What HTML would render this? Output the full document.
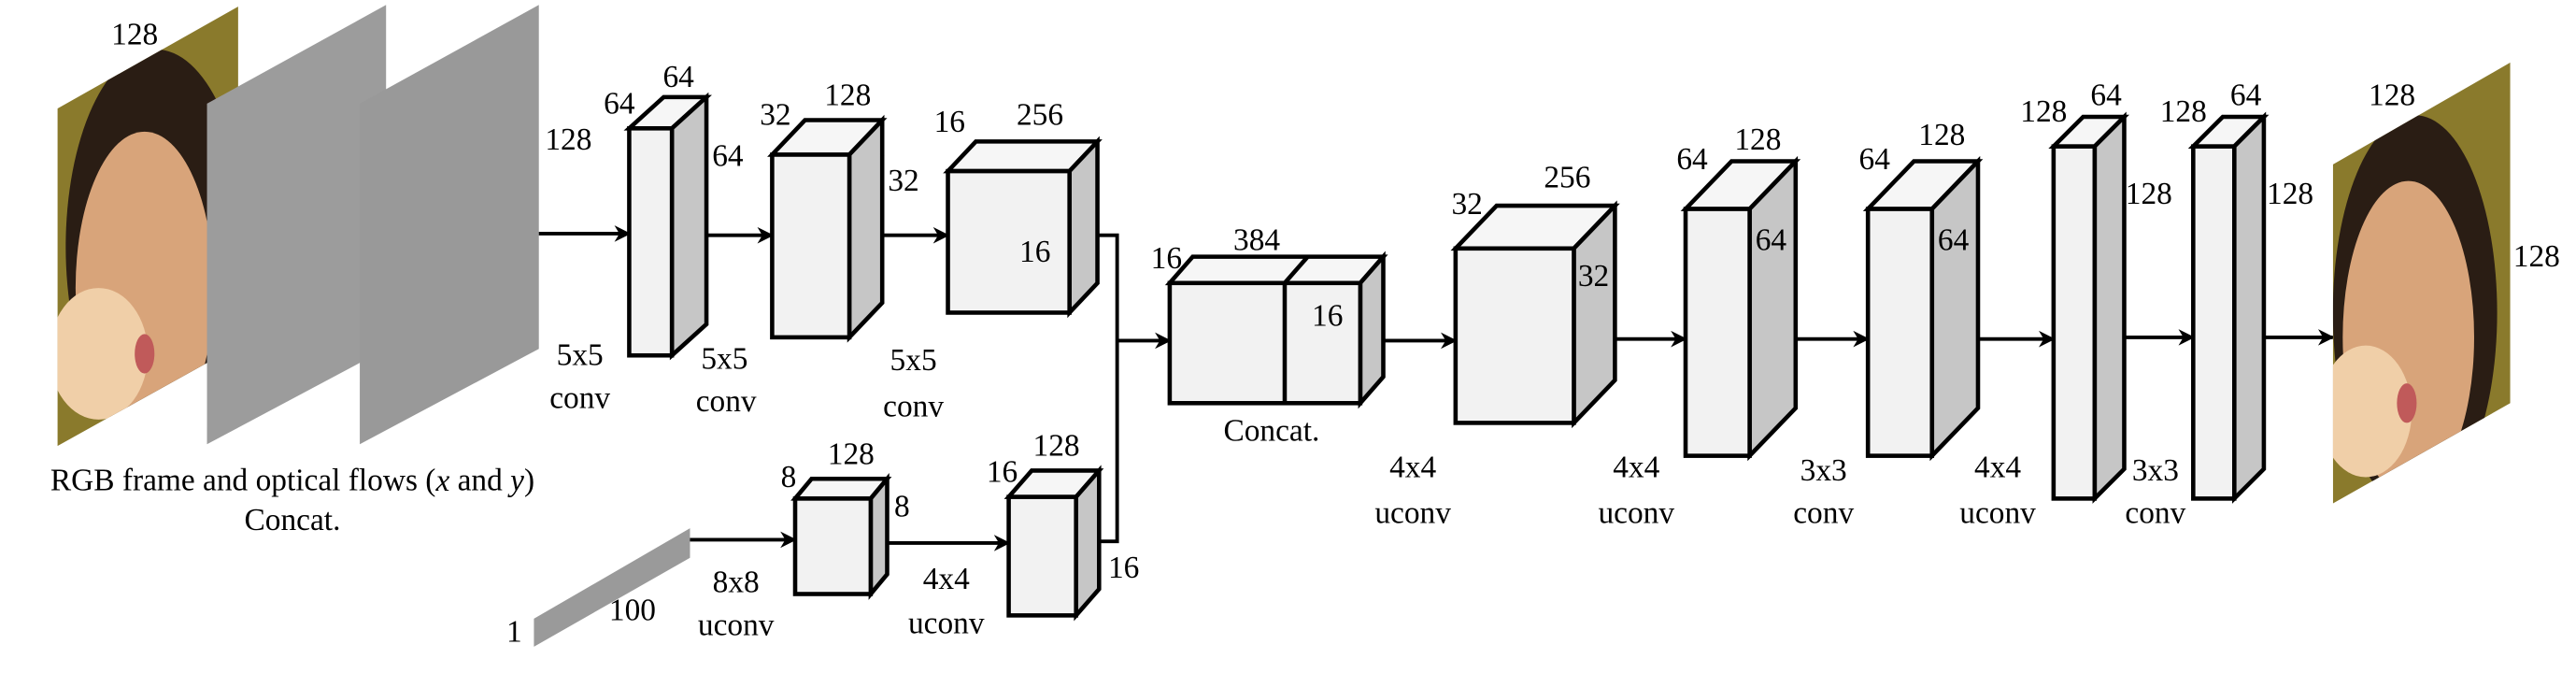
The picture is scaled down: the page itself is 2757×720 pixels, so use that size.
<!DOCTYPE html>
<html><head><meta charset="utf-8"><style>
html,body{margin:0;padding:0;background:#fff;}
svg{display:block;}
svg text{font-family:"Liberation Serif","Times New Roman","DejaVu Serif",serif;font-size:19px;fill:#000;text-anchor:middle;dominant-baseline:central;}
.f{fill:#f2f2f2;stroke:#000;stroke-width:2.6;stroke-linejoin:miter;}
.t{fill:#f6f6f6;stroke:#000;stroke-width:2.6;}
.s{fill:#c6c6c6;stroke:#000;stroke-width:2.6;}
.a{stroke:#000;stroke-width:2.2;fill:none;}
</style></head><body>
<svg width="2757" height="720" viewBox="0 0 1568 409" preserveAspectRatio="none" xmlns="http://www.w3.org/2000/svg" font-family="Liberation Serif, serif">
<defs>
<marker id="ar" markerWidth="10" markerHeight="10" refX="9" refY="5" orient="auto" markerUnits="userSpaceOnUse">
<path d="M0,0 L10,5 L0,10 L3,5 Z" fill="#000"/></marker>
<clipPath id="c1"><polygon points="35,66 145,4 145,210 35,271"/></clipPath>
<clipPath id="c2"><polygon points="1420,100 1528,38 1528,245 1420,306"/></clipPath>
</defs>

<!-- input images -->
<g clip-path="url(#c1)">
<rect x="35" y="0" width="110" height="280" fill="#8a7a2c"/>
<ellipse cx="95" cy="150" rx="55" ry="120" fill="#2a1d14"/>
<ellipse cx="88" cy="175" rx="42" ry="95" fill="#d8a47a"/>
<ellipse cx="60" cy="215" rx="30" ry="40" fill="#f0cfa8"/>
<ellipse cx="88" cy="215" rx="6" ry="12" fill="#c05a5a"/>
</g>
<polygon points="126,63 235,3 235,212 126,270" fill="#9c9c9c"/>
<polygon points="219,63 328,3 328,212 219,270" fill="#999"/>

<!-- noise strip -->
<polygon points="325,376 420,321 420,339 325,393" fill="#9a9a9a"/>

<!-- arrows -->
<line class="a" x1="328" y1="142" x2="383" y2="142" marker-end="url(#ar)"/>
<line class="a" x1="430" y1="143" x2="470" y2="143" marker-end="url(#ar)"/>
<line class="a" x1="537" y1="143" x2="577" y2="143" marker-end="url(#ar)"/>
<polyline class="a" points="668,143 680,143 680,329 669,329"/>
<line class="a" x1="680" y1="207" x2="712" y2="207" marker-end="url(#ar)"/>
<line class="a" x1="420" y1="328" x2="484" y2="328" marker-end="url(#ar)"/>
<line class="a" x1="540" y1="330" x2="614" y2="330" marker-end="url(#ar)"/>
<line class="a" x1="842" y1="207" x2="886" y2="207" marker-end="url(#ar)"/>
<line class="a" x1="983" y1="206" x2="1026" y2="206" marker-end="url(#ar)"/>
<line class="a" x1="1093" y1="206" x2="1137" y2="206" marker-end="url(#ar)"/>
<line class="a" x1="1204" y1="206" x2="1250" y2="206" marker-end="url(#ar)"/>
<line class="a" x1="1293" y1="205" x2="1335" y2="205" marker-end="url(#ar)"/>
<line class="a" x1="1378" y1="205" x2="1420" y2="205" marker-end="url(#ar)"/>

<!-- blocks -->
<g>
<polygon class="t" points="383,78 404,59 430,59 409,78"/><polygon class="s" points="409,78 430,59 430,197 409,216"/><rect class="f" x="383" y="78" width="26" height="138"/>
<polygon class="t" points="470,94 490,73 537,73 517,94"/><polygon class="s" points="517,94 537,73 537,184 517,205"/><rect class="f" x="470" y="94" width="47" height="111"/>
<polygon class="t" points="577,104 594,86 668,86 651,104"/><polygon class="s" points="651,104 668,86 668,172 651,190"/><rect class="f" x="577" y="104" width="74" height="86"/>
<polygon class="t" points="484,303 494,291 540,291 530,303"/><polygon class="s" points="530,303 540,291 540,349 530,361"/><rect class="f" x="484" y="303" width="46" height="58"/>
<polygon class="t" points="614,302 628,286 669,286 655,302"/><polygon class="s" points="655,302 669,286 669,358 655,374"/><rect class="f" x="614" y="302" width="41" height="72"/>
<polygon class="t" points="712,172 726,156 842,156 828,172"/><polygon class="s" points="828,172 842,156 842,229 828,245"/><rect class="f" x="712" y="172" width="116" height="73"/>
<line x1="782" y1="172" x2="782" y2="245" stroke="#000" stroke-width="2.6"/><line x1="782" y1="172" x2="796" y2="156" stroke="#000" stroke-width="2.6"/>
<polygon class="t" points="886,151 911,125 983,125 958,151"/><polygon class="s" points="958,151 983,125 983,231 958,257"/><rect class="f" x="886" y="151" width="72" height="106"/>
<polygon class="t" points="1026,127 1054,98 1093,98 1065,127"/><polygon class="s" points="1065,127 1093,98 1093,248 1065,277"/><rect class="f" x="1026" y="127" width="39" height="150"/>
<polygon class="t" points="1137,127 1165,98 1204,98 1176,127"/><polygon class="s" points="1176,127 1204,98 1204,248 1176,277"/><rect class="f" x="1137" y="127" width="39" height="150"/>
<polygon class="t" points="1250,89 1268,71 1293,71 1275,89"/><polygon class="s" points="1275,89 1293,71 1293,285 1275,303"/><rect class="f" x="1250" y="89" width="25" height="214"/>
<polygon class="t" points="1335,89 1353,71 1378,71 1360,89"/><polygon class="s" points="1360,89 1378,71 1378,285 1360,303"/><rect class="f" x="1335" y="89" width="25" height="214"/>
</g>

<!-- output image -->
<g clip-path="url(#c2)">
<rect x="1420" y="30" width="110" height="280" fill="#8a7a2c"/>
<ellipse cx="1470" cy="190" rx="50" ry="120" fill="#2a1d14"/>
<ellipse cx="1466" cy="205" rx="40" ry="95" fill="#d8a47a"/>
<ellipse cx="1440" cy="250" rx="28" ry="40" fill="#f0cfa8"/>
<ellipse cx="1465" cy="245" rx="6" ry="12" fill="#c05a5a"/>
</g>

<!-- labels -->
<text x="82" y="21">128</text>
<text x="346" y="85">128</text>
<text x="377" y="63">64</text><text x="413" y="47">64</text><text x="443" y="95">64</text>
<text x="472" y="70">32</text><text x="516" y="58">128</text><text x="550" y="110">32</text>
<text x="578" y="74">16</text><text x="633" y="70">256</text><text x="630" y="153">16</text>
<text x="353" y="216">5x5</text><text x="353" y="242">conv</text>
<text x="441" y="218">5x5</text><text x="442" y="244">conv</text>
<text x="556" y="219">5x5</text><text x="556" y="247">conv</text>
<text x="178" y="292">RGB frame and optical flows (<tspan font-style="italic">x</tspan> and <tspan font-style="italic">y</tspan>)</text>
<text x="178" y="316">Concat.</text>
<text x="480" y="290">8</text><text x="518" y="276">128</text><text x="549" y="308">8</text>
<text x="610" y="287">16</text><text x="643" y="271">128</text><text x="684" y="345">16</text>
<text x="448" y="354">8x8</text><text x="448" y="380">uconv</text>
<text x="576" y="352">4x4</text><text x="576" y="379">uconv</text>
<text x="313" y="384">1</text><text x="385" y="371">100</text>
<text x="710" y="157">16</text><text x="765" y="146">384</text><text x="808" y="192">16</text>
<text x="774" y="262">Concat.</text>
<text x="893" y="124">32</text><text x="954" y="108">256</text><text x="970" y="168">32</text>
<text x="1030" y="97">64</text><text x="1070" y="85">128</text><text x="1078" y="146">64</text>
<text x="1141" y="97">64</text><text x="1182" y="82">128</text><text x="1189" y="146">64</text>
<text x="1244" y="68">128</text><text x="1282" y="58">64</text><text x="1308" y="118">128</text>
<text x="1329" y="68">128</text><text x="1367" y="58">64</text><text x="1394" y="118">128</text>
<text x="1456" y="58">128</text><text x="1544" y="156">128</text>
<text x="860" y="284">4x4</text><text x="860" y="312">uconv</text>
<text x="996" y="284">4x4</text><text x="996" y="312">uconv</text>
<text x="1110" y="286">3x3</text><text x="1110" y="312">conv</text>
<text x="1216" y="284">4x4</text><text x="1216" y="312">uconv</text>
<text x="1312" y="286">3x3</text><text x="1312" y="312">conv</text>
</svg>
</body></html>
